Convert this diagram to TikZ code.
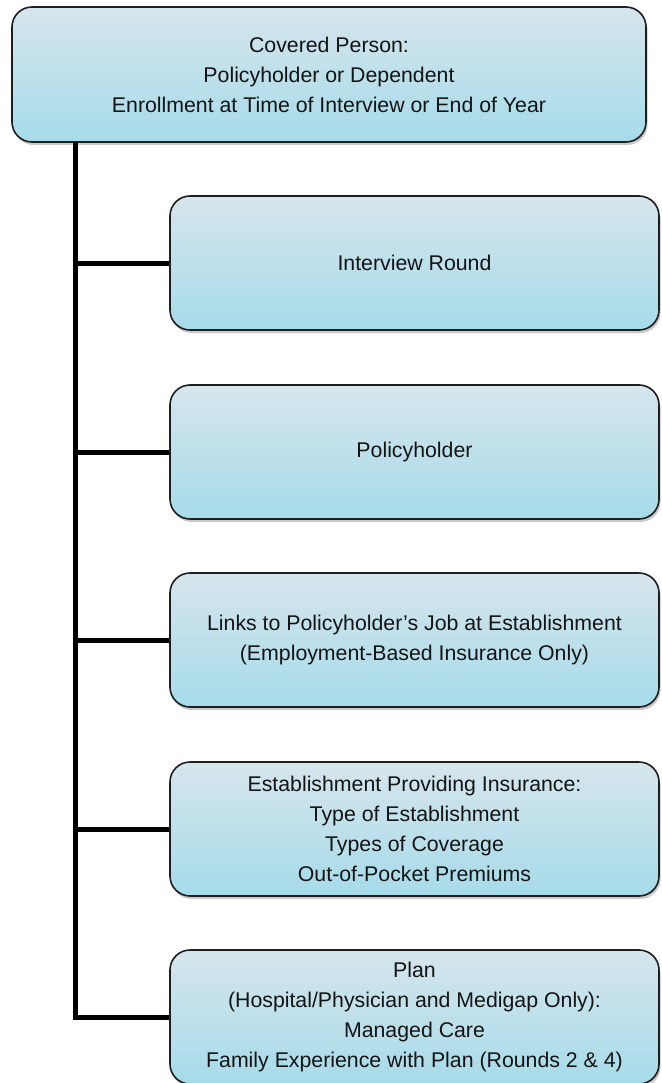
\documentclass[tikz,border=0pt]{standalone}
\usepackage{fontspec}
\setmainfont{Liberation Sans}
\usetikzlibrary{shadows}
\definecolor{boxtop}{HTML}{D6E5EC}
\definecolor{boxbot}{HTML}{A6DBEA}
\definecolor{boxline}{HTML}{1E1E1E}
\definecolor{txt}{HTML}{141414}
\tikzset{
  infobox/.style={rectangle, rounded corners=20pt, draw=boxline, line width=1.6pt,
    top color=boxtop, bottom color=boxbot, align=center, text=txt,
    font=\fontsize{21.3}{30}\selectfont, inner sep=0pt,
    drop shadow={shadow xshift=1.5pt, shadow yshift=-3pt, opacity=0.35, fill=black!60}},
  childbox/.style={infobox, minimum width=489pt, minimum height=134pt},
  link/.style={line width=5pt, draw=black}
}
\begin{document}
\begin{tikzpicture}[x=1pt,y=-1pt]
\useasboundingbox (0,0) rectangle (661,1083);
\node[infobox, minimum width=634pt, minimum height=135pt] (top) at (329,74.5)
  {Covered Person:\\Policyholder or Dependent\\Enrollment at Time of Interview or End of Year};
\node[childbox] (b1) at (414.5,263) {Interview Round};
\node[childbox] (b2) at (414.5,452) {Policyholder};
\node[childbox] (b3) at (414.5,640) {Links to Policyholder’s Job at Establishment\\(Employment-Based Insurance Only)};
\node[childbox] (b4) at (414.5,829) {Establishment Providing Insurance:\\Type of Establishment\\Types of Coverage\\Out-of-Pocket Premiums};
\node[childbox] (b5) at (414.5,1017) {Plan\\(Hospital/Physician and Medigap Only):\\Managed Care\\Family Experience with Plan (Rounds 2 \& 4)};
\coordinate (trunk) at (75.5,142.5);
\draw[link] (trunk) -- (trunk |- b5.west) -- (b5.west);
\draw[link] (trunk |- b1.west) -- (b1.west);
\draw[link] (trunk |- b2.west) -- (b2.west);
\draw[link] (trunk |- b3.west) -- (b3.west);
\draw[link] (trunk |- b4.west) -- (b4.west);
\end{tikzpicture}
\end{document}
